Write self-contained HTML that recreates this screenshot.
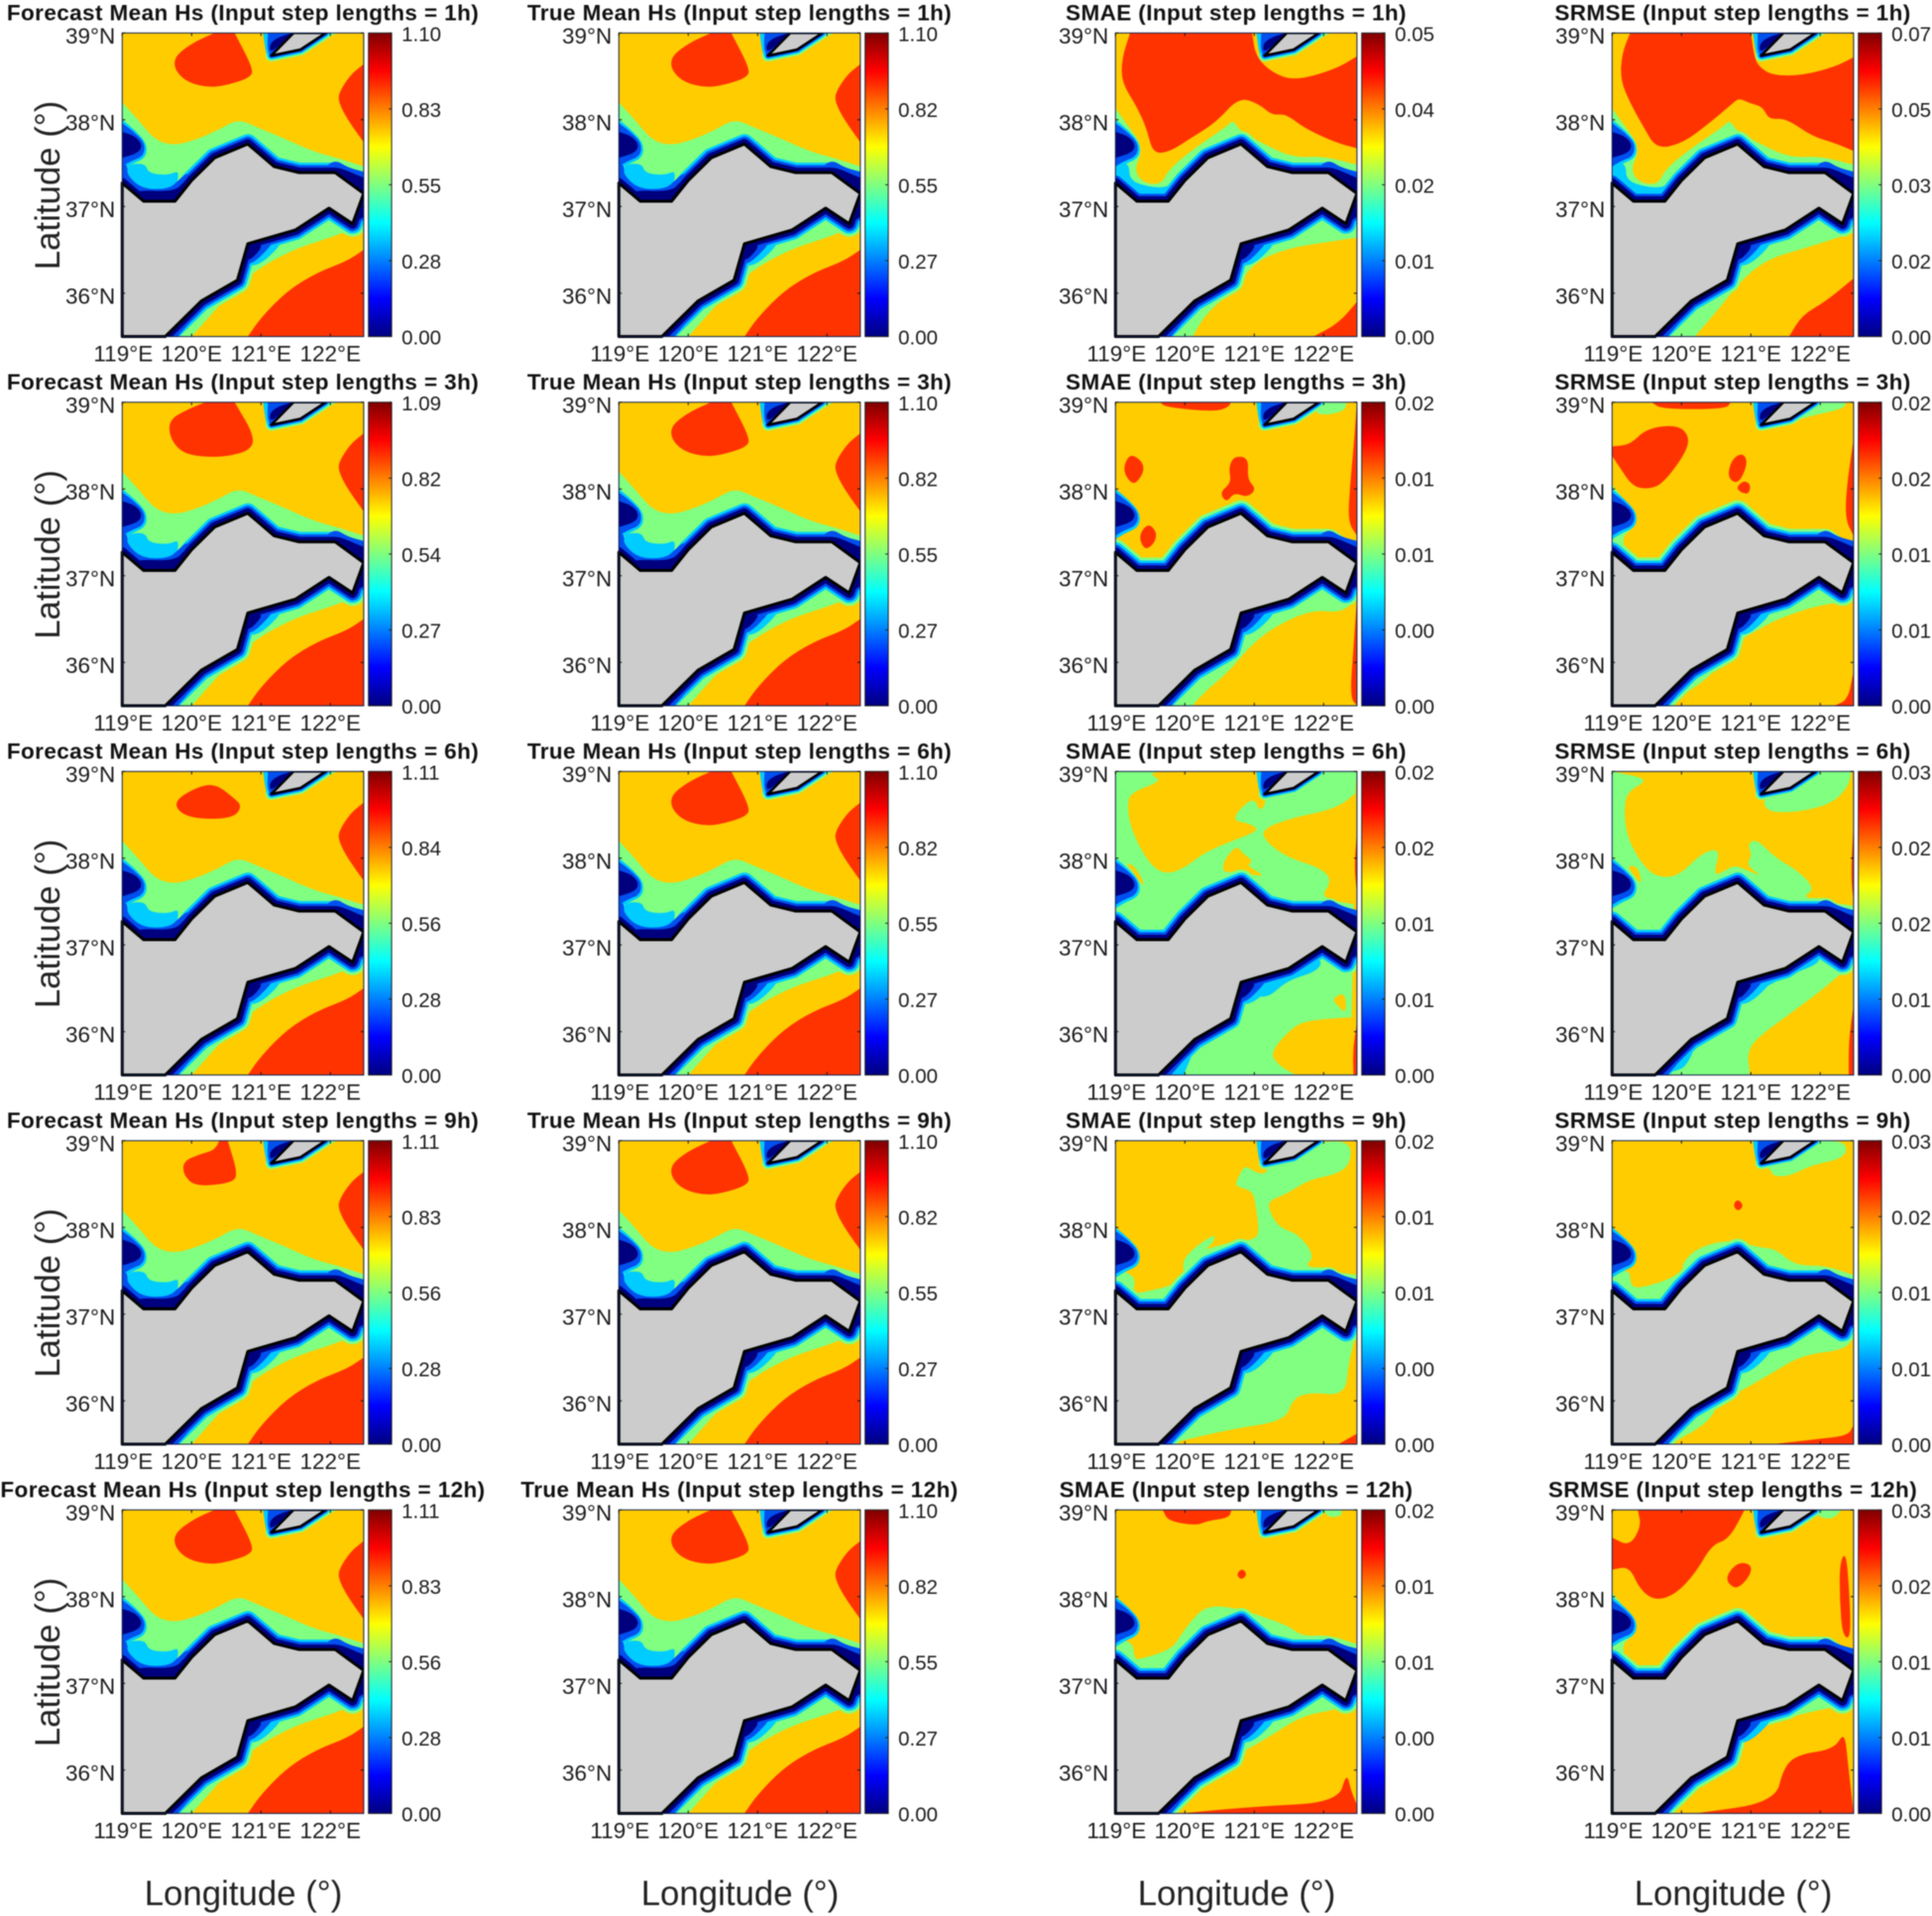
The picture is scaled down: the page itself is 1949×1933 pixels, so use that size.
<!DOCTYPE html>
<html lang="en">
<head>
<meta charset="utf-8">
<title>Mean Hs forecast, truth and error maps by input step length</title>
<style>
html,body{margin:0;padding:0;background:#fff;width:1949px;height:1933px;overflow:hidden}
svg{display:block;filter:blur(.4px)}
text{font-family:"Liberation Sans",Arial,sans-serif;fill:#1a1a1a}
.title{font-size:22.5px;font-weight:700;letter-spacing:.4px;text-anchor:middle;fill:#111}
.axis-title{font-size:34.8px;text-anchor:middle;fill:#222}
.tick{font-size:22.5px}
.bar-tick{font-size:20.5px}
</style>
</head>
<body>
<svg id="chart" xmlns="http://www.w3.org/2000/svg" width="1949" height="1933" viewBox="0 0 1949 1933">
<rect width="1949" height="1933" fill="#fff"/>
<defs id="clips"></defs>
<g id="maps"></g>
<g>
<text class="title" x="245" y="20.5">Forecast Mean Hs (Input step lengths = 1h)</text>
<text class="title" x="746" y="20.5">True Mean Hs (Input step lengths = 1h)</text>
<text class="title" x="1247" y="20.5">SMAE (Input step lengths = 1h)</text>
<text class="title" x="1748" y="20.5">SRMSE (Input step lengths = 1h)</text>
<text class="title" x="245" y="393">Forecast Mean Hs (Input step lengths = 3h)</text>
<text class="title" x="746" y="393">True Mean Hs (Input step lengths = 3h)</text>
<text class="title" x="1247" y="393">SMAE (Input step lengths = 3h)</text>
<text class="title" x="1748" y="393">SRMSE (Input step lengths = 3h)</text>
<text class="title" x="245" y="765.5">Forecast Mean Hs (Input step lengths = 6h)</text>
<text class="title" x="746" y="765.5">True Mean Hs (Input step lengths = 6h)</text>
<text class="title" x="1247" y="765.5">SMAE (Input step lengths = 6h)</text>
<text class="title" x="1748" y="765.5">SRMSE (Input step lengths = 6h)</text>
<text class="title" x="245" y="1138">Forecast Mean Hs (Input step lengths = 9h)</text>
<text class="title" x="746" y="1138">True Mean Hs (Input step lengths = 9h)</text>
<text class="title" x="1247" y="1138">SMAE (Input step lengths = 9h)</text>
<text class="title" x="1748" y="1138">SRMSE (Input step lengths = 9h)</text>
<text class="title" x="245" y="1510.5">Forecast Mean Hs (Input step lengths = 12h)</text>
<text class="title" x="746" y="1510.5">True Mean Hs (Input step lengths = 12h)</text>
<text class="title" x="1247" y="1510.5">SMAE (Input step lengths = 12h)</text>
<text class="title" x="1748" y="1510.5">SRMSE (Input step lengths = 12h)</text>
</g>
<g>
<text class="axis-title" transform="translate(60,187) rotate(-90)">Latitude (°)</text>
<text class="axis-title" transform="translate(60,559.5) rotate(-90)">Latitude (°)</text>
<text class="axis-title" transform="translate(60,932) rotate(-90)">Latitude (°)</text>
<text class="axis-title" transform="translate(60,1304.5) rotate(-90)">Latitude (°)</text>
<text class="axis-title" transform="translate(60,1677) rotate(-90)">Latitude (°)</text>
<text class="axis-title" x="245.5" y="1922">Longitude (°)</text>
<text class="axis-title" x="746.5" y="1922">Longitude (°)</text>
<text class="axis-title" x="1247.5" y="1922">Longitude (°)</text>
<text class="axis-title" x="1748.5" y="1922">Longitude (°)</text>
</g>
</svg>
<script>
/* ---------- axis data ---------- */
const longitudeTicks = [119, 120, 121, 122];
const latitudeTicks = [39, 38, 37, 36];
const longitudeTickLabels = ['119°E', '120°E', '121°E', '122°E'];
const latitudeTickLabels = ['39°N', '38°N', '37°N', '36°N'];

/* ---------- colour bar tick labels, top to bottom ---------- */
const forecastBarLabels = [
  ['1.10', '0.83', '0.55', '0.28', '0.00'],
  ['1.09', '0.82', '0.54', '0.27', '0.00'],
  ['1.11', '0.84', '0.56', '0.28', '0.00'],
  ['1.11', '0.83', '0.56', '0.28', '0.00'],
  ['1.11', '0.83', '0.56', '0.28', '0.00']
];
const trueBarLabels = ['1.10', '0.82', '0.55', '0.27', '0.00'];
const smaeBarLabels = [
  ['0.05', '0.04', '0.02', '0.01', '0.00'],
  ['0.02', '0.01', '0.01', '0.00', '0.00'],
  ['0.02', '0.02', '0.01', '0.01', '0.00'],
  ['0.02', '0.01', '0.01', '0.00', '0.00'],
  ['0.02', '0.01', '0.01', '0.00', '0.00']
];
const srmseBarLabels = [
  ['0.07', '0.05', '0.03', '0.02', '0.00'],
  ['0.02', '0.02', '0.01', '0.01', '0.00'],
  ['0.03', '0.02', '0.02', '0.01', '0.00'],
  ['0.03', '0.02', '0.01', '0.01', '0.00'],
  ['0.03', '0.02', '0.01', '0.01', '0.00']
];

/* ---------- geography, [longitude, latitude] ---------- */
const mainland = [[119,37.27],[119.31,37.06],[119.76,37.06],[120,37.3],[120.33,37.56],[120.81,37.72],[121.19,37.46],[121.55,37.39],[122.07,37.39],[122.48,37.15],[122.32,36.8],[121.98,36.98],[121.5,36.73],[120.81,36.57],[120.66,36.15],[120.14,35.91],[119.62,35.5],[119,35.5]];
const island = [[121.47,39],[121.93,39],[121.57,38.81],[121.15,38.74]];

/* ---------- shared near-shore contours ---------- */
const bayCyan = [[119,38],[119.2,37.87],[119.36,37.72],[119.34,37.56],[119.14,37.49],[119,37.42]];
const bayBlue = [[119,37.96],[119.17,37.86],[119.33,37.73],[119.31,37.58],[119.12,37.52],[119,37.46]];
const bayNavy = [[119,37.86],[119.19,37.81],[119.29,37.71],[119.24,37.62],[119,37.56]];
const islandCyan = [[121.03,39],[121.5,39],[121.13,38.69],[121.07,38.76]];
const islandBlue = [[121.1,39],[121.5,39],[121.15,38.72],[121.09,38.8]];
const islandNavy = [[121.45,39],[121.14,38.76],[121.12,38.87],[121.24,38.95]];
const wedgeCyan = [[120.75,36.32],[121,36.32],[121.4,36.66],[120.8,36.6]];
const wedgeBlue = [[120.78,36.55],[121.25,36.65],[120.95,36.38],[120.78,36.32]];
const wedgeNavy = [[120.79,36.57],[121.05,36.57],[120.88,36.4],[120.78,36.38]];
const eastBlue = [[121.9,37.44],[122.07,37.54],[122.25,37.45],[122.48,37.4],[122.48,37.2],[122.07,37.38]];
const eastNavy = [[122.07,37.47],[122.48,37.33],[122.48,37.15],[122.07,37.39]];
const notchBlue = [[122.48,37.15],[122.48,36.85],[122.32,36.76]];
const notchNavy = [[122.48,37.1],[122.48,36.88],[122.32,36.8]];
const southWestBlue = [[119.64,35.5],[120.12,35.92],[120.02,35.7],[119.8,35.5]];
const bayBottomNavy = [[119.14,37.19],[119.76,37.17],[119.9,37.3],[120,37.3],[119.76,37.06],[119.31,37.06]];

/* ---------- mean Hs contours ---------- */
const greenNorthMean = [[119,38.2],[119.24,37.99],[119.48,37.76],[119.76,37.7],[120.1,37.78],[120.38,37.88],[120.67,38.01],[120.95,37.91],[121.29,37.8],[121.76,37.63],[122.14,37.55],[122.48,37.46],[122.48,37.15],[121,37],[119,37]];
const greenSouthMean = [[120,35.5],[120.29,35.76],[120.67,36.1],[121.05,36.33],[121.52,36.52],[122,36.64],[122.48,36.79],[122.48,37.1],[121,37],[119.6,36.5],[119.6,35.5]];
const islandGreenBand = [[121.12,38.7],[121.45,38.74],[121.75,38.86],[122.1,39],[121.5,39]];
const cyanBayMean = [[119.05,37.48],[119.33,37.5],[119.38,37.38],[119.67,37.36],[119.83,37.42],[119.76,37.17],[119.29,37.19],[119.1,37.32]];
const blueBayMean = [[119,37.5],[119.08,37.47],[119.07,37.36],[119.29,37.2],[119.67,37.2],[119.81,37.3],[119.95,37.4],[120,37.3],[119.76,37],[119.3,37],[119,37.2]];
const redNorthTypical = [[119.81,38.77],[120.05,38.9],[120.33,39],[120.62,39],[120.88,38.6],[120.86,38.49],[120.52,38.4],[120.24,38.37],[119.95,38.43],[119.79,38.54],[119.74,38.66]];
const redNorthLarge = [[119.68,38.8],[119.95,38.92],[120.2,39],[120.62,39],[120.9,38.62],[120.86,38.45],[120.5,38.37],[120.15,38.37],[119.85,38.42],[119.68,38.6]];
const redNorthSmall = [[119.76,38.67],[120.08,38.82],[120.34,38.86],[120.6,38.7],[120.73,38.6],[120.6,38.46],[120.08,38.45],[119.81,38.53]];
const redNorthNarrow = [[119.88,38.76],[120.1,38.84],[120.33,38.89],[120.4,39],[120.52,39],[120.67,38.61],[120.57,38.51],[120.05,38.47],[119.88,38.61]];
const redEastMean = [[122.48,38.64],[122.29,38.52],[122.12,38.31],[122.12,38.2],[122.24,38.01],[122.48,37.74]];
const redSouthEastMean = [[120.81,35.5],[121,35.72],[121.38,36.03],[121.81,36.24],[122.24,36.37],[122.48,36.5],[122.48,35.5]];

/* ---------- error contours, 1h ---------- */
const greenNorthErrorWide = [[119,38.13],[119.19,37.92],[119.36,37.73],[119.36,37.58],[119.29,37.47],[119.31,37.35],[119.45,37.26],[119.67,37.26],[119.76,37.42],[120.1,37.65],[120.6,37.92],[120.7,38],[120.79,37.87],[121.09,37.74],[121.55,37.56],[122,37.58],[122.48,37.48],[122.48,37.15],[121,37],[119,37]];
const cyanBayError = [[119,37.5],[119.2,37.5],[119.2,37.3],[119.5,37.22],[119.75,37.22],[119.85,37.3],[120,37.2],[119.76,37],[119.3,37],[119,37.2]];
const redSmae1h = [[119.21,39],[119.09,38.7],[119.09,38.43],[119.3,38.16],[119.45,37.9],[119.54,37.61],[119.78,37.63],[120.07,37.78],[120.45,37.97],[120.78,38.26],[121.07,38.18],[121.26,38.05],[121.45,38.07],[121.73,37.9],[122.16,37.74],[122.48,37.67],[122.48,38.73],[122.16,38.58],[121.59,38.45],[121.26,38.54],[121.02,38.73],[120.97,39]];
const redSmae1hSouth = [[121.85,35.5],[122.21,35.65],[122.48,35.9],[122.48,35.5]];
const greenSouthSmae1h = [[120.11,35.5],[120.3,35.76],[120.73,36.06],[121.02,36.37],[121.5,36.52],[121.97,36.58],[122.48,36.64],[122.48,37.1],[121,37],[119.6,36.5],[119.6,35.5]];
const redSrmse1h = [[119.26,39],[119.14,38.76],[119.12,38.46],[119.26,38.19],[119.45,37.92],[119.64,37.66],[120.02,37.73],[120.4,37.96],[120.74,38.19],[120.83,38.25],[120.98,38.19],[121.17,38.15],[121.26,38],[121.5,38.02],[121.88,37.81],[122.21,37.73],[122.48,37.64],[122.48,38.72],[122.21,38.61],[121.74,38.51],[121.31,38.51],[121.12,38.61],[121.05,38.72],[121,39]];
const redSrmse1hSouth = [[121.55,35.5],[121.74,35.75],[122.07,35.9],[122.48,36.17],[122.48,35.5]];
const greenSouthSrmse1h = [[120.19,35.5],[120.55,35.83],[120.88,36.17],[121.26,36.4],[121.74,36.51],[122.48,36.7],[122.48,37.1],[121,37],[119.6,36.5],[119.6,35.5]];

/* ---------- error contours, 3h ---------- */
const bayGreenNarrow = [[119,38.05],[119.15,37.9],[119.35,37.72],[119.33,37.56],[119.15,37.46],[119.18,37.3],[119.3,37.2],[119,37.2]];
const redSmae3hTop = [[119.64,39],[119.73,38.94],[120.45,38.89],[120.64,38.95],[120.66,39]];
const redSmae3hWest = [[119.12,38.28],[119.23,38.42],[119.45,38.26],[119.28,38.03],[119.14,38.15]];
const redSmae3hCentre = [[120.71,38.38],[120.92,38.36],[120.9,38.11],[121.03,38],[120.9,37.9],[120.71,37.96],[120.6,37.84],[120.5,37.96],[120.67,38.07],[120.63,38.25]];
const redSmae3hBay = [[119.33,37.46],[119.47,37.61],[119.6,37.5],[119.56,37.37],[119.42,37.29]];
const redSmae3hEast = [[122.48,39],[122.43,38.46],[122.38,38.04],[122.35,37.62],[122.48,37.46]];
const redSmae3hSouth = [[122.48,36.74],[122.43,36.17],[122.38,35.6],[122.48,35.5]];
const greenSouthSmae3h = [[120.11,35.5],[120.26,35.64],[120.64,35.9],[120.92,36.17],[121.26,36.4],[121.83,36.61],[122.26,36.57],[122.48,36.74],[122.48,37.1],[121,37],[119.6,36.5],[119.6,35.5]];
const greenNorthEastSmae3h = [[121.85,39],[121.9,38.84],[122.3,38.89],[122.33,39]];
const redSrmse3hTop = [[119.57,39],[119.71,38.92],[120.64,38.92],[120.71,39]];
const redSrmse3hBlob = [[119,38.49],[119.26,38.51],[119.5,38.7],[119.95,38.74],[120.12,38.6],[120.05,38.4],[119.74,38.07],[119.55,38],[119.3,38.02],[119.1,38.26],[119,38.38]];
const redSrmse3hSpotA = [[120.72,38.34],[120.88,38.42],[120.96,38.3],[120.82,38.05],[120.66,38.13]];
const redSrmse3hSpotB = [[120.79,38.02],[120.9,38.1],[121,38.05],[120.97,37.94],[120.85,37.96]];
const redSrmse3hEast = [[122.48,38.57],[122.38,38.03],[122.36,37.65],[122.48,37.46]];
const redSrmse3hCorner = [[122.48,35.9],[122.4,35.57],[122.2,35.5],[122.48,35.5]];
const greenSouthSrmse3h = [[119.85,35.5],[119.93,35.58],[120.26,35.75],[120.48,35.9],[120.45,36],[120.64,36.17],[120.98,36.32],[121.4,36.51],[121.98,36.66],[122.4,36.7],[122.48,36.89],[122.48,37.1],[121,37],[119.6,36.5],[119.6,35.5]];
const greenNorthEastSrmse3h = [[121.15,38.72],[121.45,38.72],[121.74,38.82],[122.36,38.93],[122.36,39],[121.93,39]];

/* ---------- error contours, 6h ---------- */
const yellowSmae6hMain = [[119.22,38.76],[119.68,38.89],[119.49,38.97],[119.63,39],[121.08,39],[121.1,38.74],[121.18,38.65],[121.08,38.53],[120.99,38.72],[120.65,38.44],[120.94,38.4],[121.08,38.32],[120.65,38.19],[120.27,38.06],[119.99,37.88],[119.7,37.81],[119.46,37.96],[119.22,38.34],[119.17,38.61]];
const yellowSmae6hCentre = [[120.55,37.96],[120.74,38.15],[120.83,38.06],[120.99,37.96],[120.88,37.92],[121.17,37.79],[120.93,37.81],[120.74,37.85],[120.55,37.83]];
const yellowSmae6hEast = [[121.08,38.32],[121.51,38.46],[122.18,38.57],[122.48,38.76],[122.48,37.46],[121.94,37.54],[122.12,37.73],[121.98,37.88],[121.51,38],[121.22,38.15]];
const yellowSmae6hSouth = [[121.22,35.75],[121.51,36.02],[121.74,36.13],[122.48,36.17],[122.48,35.5],[121.6,35.5],[121.37,35.6]];
const yellowSmae6hSpot = [[122.12,36.38],[122.31,36.46],[122.33,36.2],[122.2,36.3]];
const yellowSmae6hStrip = [[122.48,39],[122.45,38.7],[122.42,36.7],[122.38,35.5],[122.48,35.5]];
const yellowSmae6hBay = [[119.15,37.94],[119.27,37.92],[119.43,37.69],[119.36,37.71],[119.22,37.88]];
const redSmae6hEast = [[122.48,38.3],[122.44,37.9],[122.48,37.6]];
const redSmae6hSouth = [[122.48,36.1],[122.42,35.8],[122.43,35.5],[122.48,35.5]];
const cyanSmae6hSouth = [[120.95,36.44],[121.19,36.38],[121.47,36.59],[121.93,36.7],[121.98,36.86],[121.5,36.76],[120.86,36.51]];
const cyanSmae6hWest = [[119.67,35.5],[119.88,35.67],[120.07,35.83],[120.17,35.86],[120.07,35.67],[119.98,35.5]];
const greenSrmse6hNorth = [[119,39],[119.55,38.91],[119.24,38.78],[119.17,38.61],[119.21,38.23],[119.5,37.85],[119.74,37.77],[119.98,37.81],[120.31,38.07],[120.57,38.11],[120.45,37.79],[120.64,37.86],[120.76,37.92],[120.98,37.85],[121.17,37.79],[120.93,37.92],[121.02,38.04],[120.95,38.15],[121.07,38.23],[121.36,38],[121.69,37.85],[121.93,37.64],[121.71,37.54],[122.48,37.45],[122.48,37.15],[121,37],[119,37]];
const greenSrmse6hNorthEast = [[121.17,38.72],[121.22,38.53],[121.69,38.53],[122.17,38.63],[122.4,38.82],[122.45,39],[121.93,39]];
const yellowSrmse6hBay = [[119.21,37.92],[119.38,37.9],[119.43,37.69],[119.33,37.78]];
const greenSrmse6hSouth = [[119.62,35.5],[120.98,35.5],[120.98,35.56],[120.95,35.75],[121.07,35.92],[121.69,36.28],[122.07,36.51],[122.4,36.74],[122.48,36.82],[122.48,37.1],[121,37],[119.6,36.5]];
const redSrmse6hEast = [[122.48,38.4],[122.44,37.8],[122.48,37.5]];
const redSrmse6hSouth = [[122.48,36.3],[122.41,35.9],[122.41,35.5],[122.48,35.5]];
const cyanSrmse6hSouth = [[120.9,36.44],[121.19,36.5],[121.47,36.63],[121.98,36.78],[121.98,36.88],[121.5,36.76],[120.86,36.51]];
const cyanSrmse6hWest = [[119.67,35.5],[120.07,35.78],[120.24,35.9],[120.07,35.6],[119.93,35.55]];

/* ---------- error contours, 9h ---------- */
const greenSmae9hNorth = [[120.74,38.53],[120.86,38.72],[120.98,38.65],[121.12,38.61],[121.19,38.65],[121.17,38.74],[121.6,38.84],[121.93,38.99],[122.4,38.99],[122.38,38.72],[122.17,38.61],[121.79,38.55],[121.45,38.38],[121.19,38.3],[121.24,38.15],[121.36,38],[121.64,37.92],[121.88,37.66],[121.69,37.54],[122.48,37.45],[122.48,37.12],[120.21,37.12],[119.93,37.54],[120.07,37.73],[120.45,37.94],[120.4,37.81],[120.26,37.73],[120.55,37.81],[121.02,37.86],[121.07,37.96],[121.02,38.26],[120.98,38.42],[120.74,38.47]];
const greenSmae9hBay = [[119,37.55],[119.15,37.48],[119.29,37.42],[119.25,37.23],[119.5,37.27],[119.82,37.33],[119.95,37.46],[120.2,37.5],[120.21,37.1],[119,37]];
const greenSmae9hSouth = [[119.74,35.5],[120.64,35.67],[121.45,35.77],[121.55,36.02],[121.79,36.1],[122.31,36.06],[122.36,36.44],[122.48,36.82],[122.48,37.1],[121,37],[119.6,36.5],[119.6,35.5]];
const redSmae9hCorner = [[122.21,35.5],[122.48,35.62],[122.48,35.5]];
const redSrmse9hSpot = [[120.74,38.26],[120.81,38.33],[120.9,38.25],[120.81,38.18]];
const redSrmse9hBottom = [[121.31,35.5],[121.98,35.56],[122.4,35.6],[122.48,35.72],[122.48,35.5]];
const greenSrmse9hNorth = [[119,37.55],[119.05,37.5],[119.26,37.5],[119.26,37.35],[119.36,37.29],[119.79,37.39],[120.02,37.5],[120.02,37.6],[120.24,37.77],[120.69,37.86],[121.12,37.77],[121.36,37.75],[121.64,37.56],[122.07,37.56],[122.48,37.45],[122.48,37.15],[121,37],[119,37]];
const greenSrmse9hSouth = [[119.83,35.5],[120.4,35.75],[120.55,36.02],[120.74,36.06],[121.26,36.3],[121.74,36.53],[122.36,36.59],[122.48,36.74],[122.48,37.1],[121,37],[119.6,36.5],[119.6,35.5]];
const greenSrmse9hNorthEast = [[121.29,38.65],[121.33,38.59],[121.55,38.59],[121.88,38.72],[122.36,38.8],[122.38,38.99],[121.93,39],[121.2,38.74]];

/* ---------- error contours, 12h ---------- */
const redSmae12hTop = [[119.68,39],[119.76,38.87],[120.17,38.82],[120.31,38.87],[120.64,38.91],[120.67,39]];
const redSmae12hSpot = [[120.74,38.26],[120.83,38.33],[120.9,38.25],[120.81,38.19]];
const redSmae12hBottom = [[119.93,35.5],[121.02,35.58],[122.21,35.63],[122.33,35.98],[122.4,35.75],[122.48,35.6],[122.48,35.5]];
const greenSmae12hNorth = [[119,37.52],[119.25,37.47],[119.27,37.3],[119.33,37.27],[119.8,37.39],[119.93,37.54],[120.07,37.7],[120.31,37.9],[120.74,37.87],[121.12,37.77],[121.5,37.66],[121.69,37.54],[122.07,37.56],[122.48,37.45],[122.48,37.15],[121,37],[119,37]];
const greenSmae12hSouth = [[119.7,35.5],[120.02,35.64],[120.31,35.9],[120.4,36.02],[120.74,36.17],[121.17,36.36],[121.69,36.63],[122.21,36.7],[122.48,36.82],[122.48,37.1],[121,37],[119.6,36.5],[119.6,35.5]];
const greenSmae12hNorthEast = [[122,39],[122.07,38.91],[122.26,38.93],[122.26,39]];
const redSrmse12hMain = [[119.37,39],[119.42,38.81],[119.25,38.58],[119,38.68],[119,38.31],[119.25,38.35],[119.4,38.08],[119.63,37.95],[119.92,38.03],[120.2,38.27],[120.44,38.6],[120.68,38.66],[120.9,38.98],[120.9,39]];
const redSrmse12hSpot = [[120.66,38.26],[120.82,38.4],[121.01,38.37],[120.99,38.24],[120.8,38.08],[120.66,38.16]];
const redSrmse12hEast = [[122.37,38.52],[122.28,38.39],[122.28,37.97],[122.32,37.55],[122.44,37.51],[122.42,38.05]];
const redSrmse12hSouth = [[120.2,35.5],[121.35,35.63],[121.47,36.03],[121.68,36.18],[122.2,36.24],[122.35,36.45],[122.4,36.07],[122.48,35.5]];
const greenSrmse12hSouth = [[119.68,35.5],[120.01,35.63],[120.35,35.97],[121.01,36.45],[121.49,36.6],[121.97,36.69],[122.48,36.77],[122.48,37.1],[121,37],[119.6,36.5],[119.6,35.5]];
const greenSrmse12hNorthEast = [[121.92,39],[122.01,38.9],[122.2,38.9],[122.3,39]];

/* ---------- which contour regions each panel shows ---------- */
function meanRegions(north) {
  return [['red', north], ['red', redEastMean], ['red', redSouthEastMean], ['green', greenNorthMean], ['green', greenSouthMean], ['green', islandGreenBand]];
}
const meanBay = [['cyan', cyanBayMean], ['blue', blueBayMean]];
const panelSpecs = [
  [
    {base: 'yellow', regions: meanRegions(redNorthTypical), bay: meanBay},
    {base: 'yellow', regions: meanRegions(redNorthTypical), bay: meanBay},
    {base: 'yellow', regions: [['red', redSmae1h], ['red', redSmae1hSouth], ['green', greenNorthErrorWide], ['green', greenSouthSmae1h], ['green', islandGreenBand]], bay: [['cyan', cyanBayError]]},
    {base: 'yellow', regions: [['red', redSrmse1h], ['red', redSrmse1hSouth], ['green', greenNorthErrorWide], ['green', greenSouthSrmse1h], ['green', islandGreenBand]], bay: [['cyan', cyanBayError]]}
  ],
  [
    {base: 'yellow', regions: meanRegions(redNorthLarge), bay: meanBay},
    {base: 'yellow', regions: meanRegions(redNorthTypical), bay: meanBay},
    {base: 'yellow', regions: [['red', redSmae3hTop], ['red', redSmae3hWest], ['red', redSmae3hCentre], ['red', redSmae3hBay], ['red', redSmae3hEast], ['red', redSmae3hSouth], ['green', greenSouthSmae3h], ['green', greenNorthEastSmae3h]], bay: []},
    {base: 'yellow', regions: [['red', redSrmse3hTop], ['red', redSrmse3hBlob], ['red', redSrmse3hSpotA], ['red', redSrmse3hSpotB], ['red', redSrmse3hEast], ['red', redSrmse3hCorner], ['green', bayGreenNarrow], ['green', greenSouthSrmse3h], ['green', greenNorthEastSrmse3h]], bay: []}
  ],
  [
    {base: 'yellow', regions: meanRegions(redNorthSmall), bay: meanBay},
    {base: 'yellow', regions: meanRegions(redNorthTypical), bay: meanBay},
    {base: 'green', regions: [['yellow', yellowSmae6hMain], ['yellow', yellowSmae6hCentre], ['yellow', yellowSmae6hEast], ['yellow', yellowSmae6hSouth], ['yellow', yellowSmae6hSpot], ['yellow', yellowSmae6hStrip], ['yellow', yellowSmae6hBay], ['red', redSmae6hEast], ['red', redSmae6hSouth]], bay: [['cyan', cyanSmae6hSouth], ['cyan', cyanSmae6hWest]]},
    {base: 'yellow', regions: [['green', greenSrmse6hNorth], ['green', greenSrmse6hNorthEast], ['yellow', yellowSrmse6hBay], ['green', greenSrmse6hSouth], ['red', redSrmse6hEast], ['red', redSrmse6hSouth]], bay: [['cyan', cyanSrmse6hSouth], ['cyan', cyanSrmse6hWest]]}
  ],
  [
    {base: 'yellow', regions: meanRegions(redNorthNarrow), bay: meanBay},
    {base: 'yellow', regions: meanRegions(redNorthTypical), bay: meanBay},
    {base: 'yellow', regions: [['green', greenSmae9hNorth], ['green', greenSmae9hBay], ['green', greenSmae9hSouth], ['red', redSmae9hCorner]], bay: []},
    {base: 'yellow', regions: [['red', redSrmse9hSpot], ['red', redSrmse9hBottom], ['green', greenSrmse9hNorth], ['green', greenSrmse9hSouth], ['green', greenSrmse9hNorthEast]], bay: []}
  ],
  [
    {base: 'yellow', regions: meanRegions(redNorthTypical), bay: meanBay},
    {base: 'yellow', regions: meanRegions(redNorthTypical), bay: meanBay},
    {base: 'yellow', regions: [['red', redSmae12hTop], ['red', redSmae12hSpot], ['red', redSmae12hBottom], ['green', greenSmae12hNorth], ['green', greenSmae12hSouth], ['green', greenSmae12hNorthEast]], bay: []},
    {base: 'yellow', regions: [['red', redSrmse12hMain], ['red', redSrmse12hSpot], ['red', redSrmse12hEast], ['red', redSrmse12hSouth], ['green', bayGreenNarrow], ['green', greenSrmse12hSouth], ['green', greenSrmse12hNorthEast]], bay: []}
  ]
];
const barLabelsByColumn = [forecastBarLabels, null, smaeBarLabels, srmseBarLabels];
const columnNames = ['forecast', 'true', 'smae', 'srmse'];
const stepNames = ['1h', '3h', '6h', '9h', '12h'];

/* ---------- layout and style (not data) ---------- */
const NS = 'http://www.w3.org/2000/svg';
const PLOT_LEFT = 123.3, PLOT_TOP = 33.3, COL_STEP = 501, ROW_STEP = 372.5;
const PX_PER_LON = 70, PX_PER_LAT = 87.5, LON_MIN = 119, LON_MAX = 122.48, LAT_MAX = 39, LAT_MIN = 35.5;
const COLORS = {navy: '#00007f', blue: '#0050f0', cyan: '#00ccff', green: '#80ff80', yellow: '#ffcc00', red: '#ff3300'};
const LAND = '#cccccc';

function lonScale(lon, left) { return left + (lon - LON_MIN) * PX_PER_LON; }
function latScale(lat, top) { return top + (LAT_MAX - lat) * PX_PER_LAT; }
function pointsOf(coords, left, top) {
  return coords.map(function (c) { return lonScale(c[0], left).toFixed(2) + ',' + latScale(c[1], top).toFixed(2); }).join(' ');
}
function onFrame(c) { return c[0] <= LON_MIN || c[0] >= LON_MAX || c[1] >= LAT_MAX || c[1] <= LAT_MIN; }
function smoothPath(coords, left, top) {
  const pts = coords.map(function (c) { return [lonScale(c[0], left), latScale(c[1], top)]; });
  const n = pts.length;
  function mid(a, b) { return ((a[0] + b[0]) / 2).toFixed(2) + ' ' + ((a[1] + b[1]) / 2).toFixed(2); }
  let d = 'M' + mid(pts[n - 1], pts[0]);
  for (let i = 0; i < n; i++) {
    const p = pts[i], q = pts[(i + 1) % n];
    const v = p[0].toFixed(2) + ' ' + p[1].toFixed(2);
    d += onFrame(coords[i]) ? 'L' + v + 'L' + mid(p, q) : 'Q' + v + ' ' + mid(p, q);
  }
  return d + 'Z';
}
function make(tag, attrs, parent) {
  const node = document.createElementNS(NS, tag);
  Object.keys(attrs).forEach(function (k) { node.setAttribute(k, attrs[k]); });
  parent.appendChild(node);
  return node;
}
function region(parent, level, coords, left, top) {
  const p = make('path', {d: smoothPath(coords, left, top), fill: COLORS[level]}, parent);
  
  
  return p;
}
function coastHalo(parent, level, width, islandWidth, left, top) {
  const s = make('polygon', {points: pointsOf(mainland, left, top), fill: 'none', stroke: COLORS[level], 'stroke-width': width, 'stroke-linejoin': 'round'}, parent);
  
  
  const t = make('polygon', {points: pointsOf(island, left, top), fill: 'none', stroke: COLORS[level], 'stroke-width': islandWidth, 'stroke-linejoin': 'round'}, parent);
  
  
}

const defs = document.getElementById('clips');
const gradient = make('linearGradient', {id: 'jet', x1: 0, y1: 1, x2: 0, y2: 0}, defs);
[[0, '#00007f'], [0.125, '#0000ff'], [0.375, '#00ffff'], [0.625, '#ffff00'], [0.875, '#ff0000'], [1, '#7f0000']].forEach(function (s) {
  make('stop', {offset: s[0], 'stop-color': s[1]}, gradient);
});

const maps = document.getElementById('maps');
const plotW = (LON_MAX - LON_MIN) * PX_PER_LON;
const plotH = (LAT_MAX - LAT_MIN) * PX_PER_LAT;

panelSpecs.forEach(function (rowSpecs, r) {
  rowSpecs.forEach(function (spec, c) {
    const left = PLOT_LEFT + c * COL_STEP;
    const top = PLOT_TOP + r * ROW_STEP;
    const id = 'clip-' + r + '-' + c;
    const clip = make('clipPath', {id: id}, defs);
    make('rect', {x: left, y: top, width: plotW, height: plotH}, clip);
    const clipLand = make('clipPath', {id: id + '-land'}, defs);
    make('rect', {x: left - 2, y: top, width: plotW + 2, height: plotH + 1.5}, clipLand);

    const panel = make('g', {}, maps);
    
    

    const field = make('g', {'clip-path': 'url(#' + id + ')'}, panel);
    
    

    const bg = make('rect', {x: left, y: top, width: plotW, height: plotH, fill: COLORS[spec.base]}, field);
    
    

    spec.regions.forEach(function (rg) { region(field, rg[0], rg[1], left, top); });
    coastHalo(field, 'green', 26, 12, left, top);
    coastHalo(field, 'cyan', 20, 8, left, top);
    [bayCyan, islandCyan, wedgeCyan].forEach(function (shape) { region(field, 'cyan', shape, left, top); });
    spec.bay.forEach(function (rg) { region(field, rg[0], rg[1], left, top); });
    coastHalo(field, 'blue', 15, 5, left, top);
    [bayBlue, islandBlue, wedgeBlue, eastBlue, notchBlue, southWestBlue].forEach(function (shape) { region(field, 'blue', shape, left, top); });
    coastHalo(field, 'navy', 10, 3, left, top);
    [bayNavy, islandNavy, wedgeNavy, eastNavy, notchNavy].forEach(function (shape) { region(field, 'navy', shape, left, top); });
    if (c < 2) { region(field, 'navy', bayBottomNavy, left, top); }

    const landGroup = make('g', {'clip-path': 'url(#' + id + '-land)'}, panel);
    
    
    const landMain = make('polygon', {points: pointsOf(mainland, left, top), fill: LAND, stroke: '#000', 'stroke-width': 3, 'stroke-linejoin': 'round'}, landGroup);
    
    
    const landIsland = make('polygon', {points: pointsOf(island, left, top), fill: LAND, stroke: '#000', 'stroke-width': 2.4, 'stroke-linejoin': 'round'}, landGroup);
    
    

    const frame = make('rect', {x: left, y: top, width: plotW, height: plotH, fill: 'none', stroke: '#10204a', 'stroke-width': 1}, panel);
    
    

    longitudeTicks.forEach(function (lon, i) {
      const x = lonScale(lon, left);
      const t1 = make('line', {x1: x, x2: x, y1: top + plotH, y2: top + plotH - 3, stroke: '#111', 'stroke-width': 1}, panel);
      
      
      const t2 = make('line', {x1: x, x2: x, y1: top, y2: top + 3, stroke: '#111', 'stroke-width': 1}, panel);
      
      
      const label = make('text', {class: 'tick', x: x + (i === 0 ? 1 : 0), y: top + 331, 'text-anchor': 'middle'}, panel);
      label.textContent = longitudeTickLabels[i];
      
      
    });
    latitudeTicks.forEach(function (lat, i) {
      const y = latScale(lat, top);
      const t1 = make('line', {x1: left, x2: left + 3, y1: y, y2: y, stroke: '#111', 'stroke-width': 1}, panel);
      
      
      const t2 = make('line', {x1: left + plotW, x2: left + plotW - 3, y1: y, y2: y, stroke: '#111', 'stroke-width': 1}, panel);
      
      
      const label = make('text', {class: 'tick', x: left - 7, y: y + 10.5, 'text-anchor': 'end'}, panel);
      label.textContent = latitudeTickLabels[i];
      
      
    });

    const barX = left + 248.4, barW = 23.4;
    const bar = make('rect', {x: barX, y: top, width: barW, height: plotH, fill: 'url(#jet)', stroke: '#222', 'stroke-width': 1}, panel);
    
    
    const labels = c === 1 ? trueBarLabels : barLabelsByColumn[c][r];
    labels.forEach(function (text, i) {
      const y = top + plotH * i / (labels.length - 1);
      const tick = make('line', {x1: barX + barW, x2: barX + barW - 3, y1: y, y2: y, stroke: '#222', 'stroke-width': 1}, panel);
      
      
      const label = make('text', {class: 'bar-tick', x: barX + barW + 10, y: y + 8}, panel);
      label.textContent = text;
      
      
    });
  });
});
</script>
</body>
</html>
